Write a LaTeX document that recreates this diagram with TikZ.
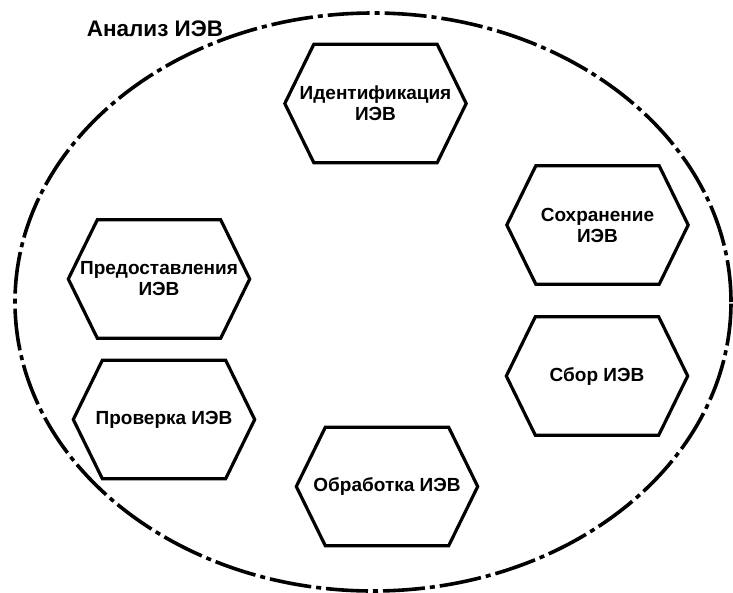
\documentclass[tikz,border=0pt]{standalone}
\usepackage{fontspec}
\setmainfont{Liberation Sans}
\usetikzlibrary{shapes.geometric}
\tikzset{
  hexa/.style={inner sep=0pt, minimum width=181pt, minimum height=118pt, align=center,
    font=\bfseries\fontsize{19}{21}\selectfont},
  hexline/.style={line width=3.2pt, line join=miter},
  area/.style={ellipse, draw, inner sep=0pt, line width=3.6pt,
    dash pattern=on 42pt off 5pt on 5pt off 5pt},
  title/.style={inner sep=0pt, font=\bfseries\fontsize{22.5}{24}\selectfont}
}
\begin{document}
\begin{tikzpicture}[x=1pt,y=-1pt]
\useasboundingbox (0,0) rectangle (733,592);
\node[area, minimum width=716pt, minimum height=578pt] (ar) at (373,302) {};
\node[title] (t) at (155,29) {Анализ ИЭВ};
\node[hexa] (id) at (375.5,103.5) {Идентификация\\ИЭВ};
\node[hexa] (so) at (597.5,225) {Сохранение\\ИЭВ};
\node[hexa] (pr) at (159,279) {Предоставления\\ИЭВ};
\node[hexa] (sb) at (597,376) {Сбор ИЭВ};
\node[hexa] (pv) at (164,419.5) {Проверка ИЭВ};
\node[hexa] (ob) at (387,486.5) {Обработка ИЭВ};
\foreach \n in {id,so,pr,sb,pv,ob}
  \draw[hexline] (\n.west) -- ([xshift=29pt]\n.north west) -- ([xshift=-29pt]\n.north east)
    -- (\n.east) -- ([xshift=-29pt]\n.south east) -- ([xshift=29pt]\n.south west) -- cycle;
\end{tikzpicture}
\end{document}
